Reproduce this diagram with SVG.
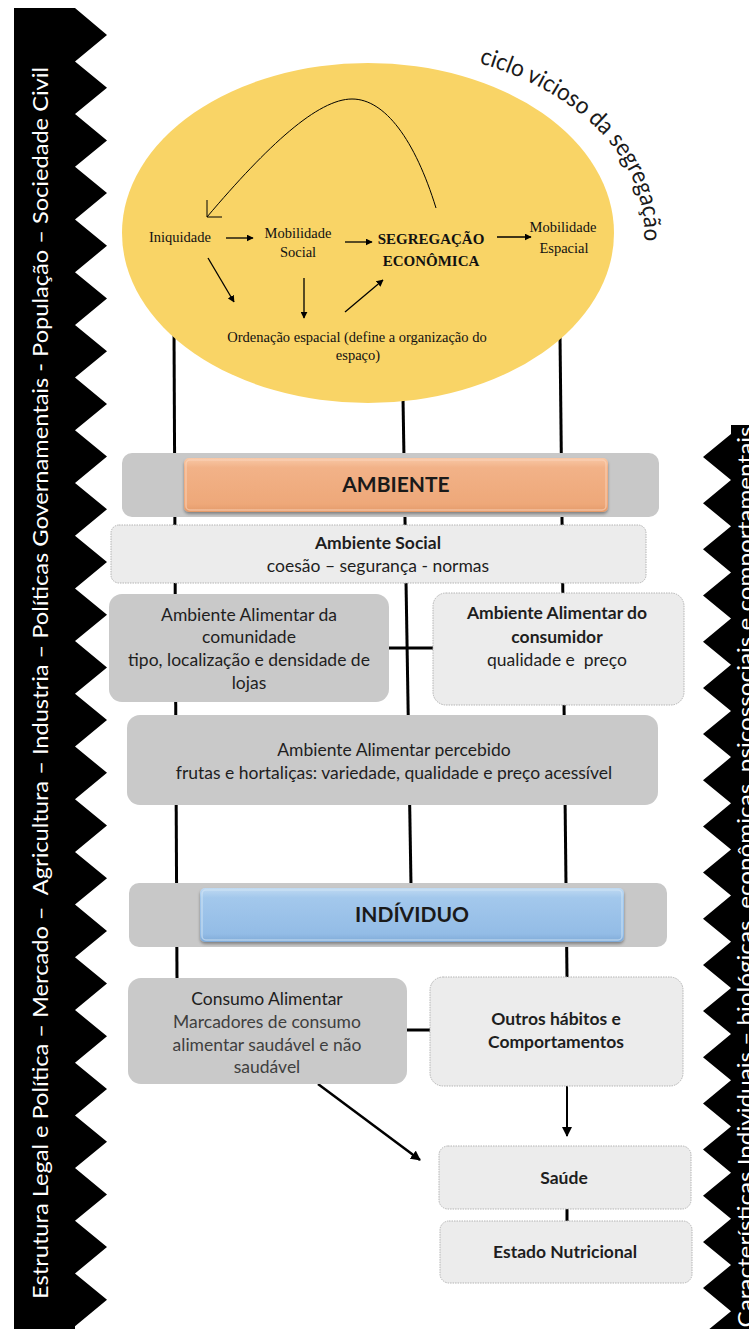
<svg xmlns="http://www.w3.org/2000/svg" width="749" height="1329" viewBox="0 0 749 1329">
  <style>
    .band-text { font-family: "Lato", "Open Sans", sans-serif; font-size: 21.5px; fill: #ffffff; }
    .serif { font-family: "Liberation Serif", "Times New Roman", serif; font-size: 14.5px; fill: #111; text-anchor: middle; }
    .serif-b { font-family: "Liberation Serif", "Times New Roman", serif; font-size: 15px; font-weight: bold; fill: #111; text-anchor: middle; }
    .lbl { font-family: "Lato", "Open Sans", sans-serif; font-size: 17.5px; fill: #1e1e1e; text-anchor: middle; }
    .lbl-b { font-family: "Lato", "Open Sans", sans-serif; font-size: 17.5px; font-weight: bold; fill: #1e1e1e; text-anchor: middle; }
    .sub { fill: #3f3f3f; }
    .head { font-family: "Lato", "Open Sans", sans-serif; font-size: 21px; font-weight: bold; fill: #1a1a1a; text-anchor: middle; }
    .band-bg { fill: #c8c8c8; }
    .dark-box { fill: #c9c9c9; }
    .light-box { fill: #ececec; stroke: #b4b4b4; stroke-width: 1; stroke-dasharray: 1.5 1; }
    .wire { stroke: #000; stroke-width: 3; fill: none; stroke-linecap: butt; }
    .thin { stroke: #000; stroke-width: 1.3; fill: none; }
  </style>
  <defs>
    <marker id="tri" viewBox="0 0 10 10" refX="9" refY="5" markerWidth="7" markerHeight="7" markerUnits="userSpaceOnUse" orient="auto">
      <path d="M0,0 L10,5 L0,10 Z" fill="#000"/>
    </marker>
    <marker id="tri-big" viewBox="0 0 10 10" refX="9" refY="5" markerWidth="10" markerHeight="10" markerUnits="userSpaceOnUse" orient="auto">
      <path d="M0,0 L10,5 L0,10 Z" fill="#000"/>
    </marker>
    <linearGradient id="orange" x1="0" y1="0" x2="0" y2="1">
      <stop offset="0" stop-color="#f8c8a6"/>
      <stop offset="0.18" stop-color="#f2b288"/>
      <stop offset="0.85" stop-color="#eea879"/>
      <stop offset="1" stop-color="#e39a6a"/>
    </linearGradient>
    <linearGradient id="blue" x1="0" y1="0" x2="0" y2="1">
      <stop offset="0" stop-color="#c0daf2"/>
      <stop offset="0.18" stop-color="#a3c8ec"/>
      <stop offset="0.85" stop-color="#93bce6"/>
      <stop offset="1" stop-color="#7fa9d6"/>
    </linearGradient>
    <filter id="shadow" x="-5%" y="-20%" width="110%" height="150%">
      <feDropShadow dx="0" dy="2" stdDeviation="1.6" flood-color="#000" flood-opacity="0.35"/>
    </filter>
    <path id="arc-title" d="M 479 63 A 273 184 0 0 1 640 264"/>
  </defs>

  <rect width="749" height="1329" fill="#ffffff"/>

  <!-- left chevron band -->
  <g id="band-left">
    <path fill="#000" d="M14,8 L75,8 L107,35 L75,61.4 L107,87.7 L75,114.1 L107,140.4 L75,166.8 L107,193.1 L75,219.5 L107,245.8 L75,272.2 L107,298.5 L75,324.9 L107,351.2 L75,377.6 L107,403.9 L75,430.3 L107,456.6 L75,483 L107,509.3 L75,535.7 L107,562 L75,588.4 L107,614.7 L75,641.1 L107,667.4 L75,693.8 L107,720.1 L75,746.5 L107,772.8 L75,799.2 L107,825.5 L75,851.9 L107,878.2 L75,904.6 L107,930.9 L75,957.3 L107,983.6 L75,1010 L107,1036.3 L75,1062.7 L107,1089 L75,1115.4 L107,1141.7 L75,1168.1 L107,1194.4 L75,1220.8 L107,1247.1 L75,1273.5 L107,1299.8 L75,1326.2 L75,1329 L14,1329 Z"/>
    <text class="band-text" x="48" y="683" text-anchor="middle" transform="rotate(-90 48 683)" textLength="1232" lengthAdjust="spacingAndGlyphs" xml:space="preserve">Estrutura Legal e Política – Mercado –  Agricultura – Industria – Políticas Governamentais - População – Sociedade Civil</text>
  </g>

  <!-- right chevron band -->
  <g id="band-right">
    <path fill="#000" d="M749,425 L731,425 L731,434 L703,457 L731,480.1 L703,503.2 L731,526.3 L703,549.3 L731,572.4 L703,595.5 L731,618.6 L703,641.7 L731,664.8 L703,687.9 L731,711 L703,734 L731,757.1 L703,780.2 L731,803.3 L703,826.4 L731,849.5 L703,872.5 L731,895.6 L703,918.7 L731,941.8 L703,964.9 L731,988 L703,1011 L731,1034.1 L703,1057.2 L731,1080.3 L703,1103.4 L731,1126.5 L703,1149.6 L731,1172.7 L703,1195.7 L731,1218.8 L703,1241.9 L731,1265 L703,1288.1 L731,1311.2 L703,1334.2 L749,1334.2 Z"/>
    <text class="band-text" x="753" y="877" text-anchor="middle" transform="rotate(-90 753 877)" textLength="901" lengthAdjust="spacingAndGlyphs">Características Individuais – biológicas, econômicas, psicossociais e comportamentais</text>
  </g>

  <!-- vertical links running behind the nodes -->
  <g id="connectors">
    <line class="wire" x1="174" y1="330" x2="177" y2="980"/>
    <line class="wire" x1="403" y1="398" x2="411" y2="885"/>
    <line class="wire" x1="560" y1="335" x2="567" y2="977"/>
    <line class="wire" x1="389" y1="648" x2="433" y2="648"/>
    <line class="wire" x1="407" y1="1030" x2="430" y2="1030"/>
    <line class="wire" x1="567" y1="1209" x2="567" y2="1221"/>
    <line stroke="#000" stroke-width="2" x1="567" y1="1086" x2="567" y2="1136" marker-end="url(#tri-big)"/>
    <line stroke="#000" stroke-width="2.5" x1="318" y1="1084" x2="420" y2="1160" marker-end="url(#tri-big)"/>
  </g>

  <!-- segregation cycle -->
  <g id="cycle">
    <ellipse cx="368" cy="233" rx="246" ry="170" fill="#f9d466"/>
    <text font-family="Lato, 'Open Sans', sans-serif" font-size="24" fill="#1a1a1a">
      <textPath href="#arc-title" textLength="262" lengthAdjust="spacingAndGlyphs">ciclo vicioso da segregação</textPath>
    </text>
    <text class="serif" x="180" y="242">Iniquidade</text>
    <text class="serif" x="298" y="238">Mobilidade</text>
    <text class="serif" x="298" y="257">Social</text>
    <text class="serif-b" x="431" y="244">SEGREGAÇÃO</text>
    <text class="serif-b" x="431" y="266">ECONÔMICA</text>
    <text class="serif" x="563" y="232">Mobilidade</text>
    <text class="serif" x="564" y="253">Espacial</text>
    <text class="serif" x="357" y="342">Ordenação espacial (define a organização do</text>
    <text class="serif" x="358" y="360">espaço)</text>
  </g>

  <g id="cycle-links">
    <line class="thin" x1="226" y1="238" x2="253" y2="238" marker-end="url(#tri)"/>
    <line class="thin" x1="345" y1="242" x2="372" y2="242" marker-end="url(#tri)"/>
    <line class="thin" x1="497" y1="237" x2="531" y2="237" marker-end="url(#tri)"/>
    <line class="thin" x1="208" y1="258" x2="234" y2="302" marker-end="url(#tri)"/>
    <line class="thin" x1="304" y1="278" x2="304" y2="318" marker-end="url(#tri)"/>
    <line class="thin" x1="345" y1="312" x2="383" y2="280" marker-end="url(#tri)"/>
    <path stroke="#000" stroke-width="1" fill="none" d="M436,208 C415,140 385,99 352,99 C318,99 268,145 207,217"/>
    <path stroke="#000" stroke-width="1" fill="none" d="M207,200 L207,217 L222,217"/>
  </g>

  <!-- AMBIENTE header -->
  <g id="ambiente">
    <rect class="band-bg" x="122" y="453" width="537" height="64" rx="10"/>
    <rect x="184" y="458" width="424" height="54" rx="5" fill="url(#orange)" filter="url(#shadow)"/>
    <rect x="186" y="460" width="420" height="50" rx="4" fill="none" stroke="#fbd6bd" stroke-opacity="0.6" stroke-width="1.5"/>
    <text class="head" x="396" y="492">AMBIENTE</text>
  </g>

  <g id="ambiente-social">
    <rect class="light-box" x="111" y="525" width="535" height="58" rx="8"/>
    <text class="lbl-b" x="378" y="549">Ambiente Social</text>
    <text class="lbl" x="378" y="572">coesão – segurança - normas</text>
  </g>

  <g id="alimentar-comunidade">
    <rect class="dark-box" x="109" y="594" width="280" height="108" rx="13"/>
    <text class="lbl" x="249" y="621">Ambiente Alimentar da</text>
    <text class="lbl" x="249" y="643">comunidade</text>
    <text class="lbl" x="249" y="666">tipo, localização e densidade de</text>
    <text class="lbl" x="249" y="689">lojas</text>
  </g>

  <g id="alimentar-consumidor">
    <rect class="light-box" x="433" y="593" width="251" height="112" rx="13"/>
    <text class="lbl-b" x="557" y="619">Ambiente Alimentar do</text>
    <text class="lbl-b" x="557" y="643">consumidor</text>
    <text class="lbl" x="557" y="666" xml:space="preserve">qualidade e  preço</text>
  </g>

  <g id="alimentar-percebido">
    <rect class="dark-box" x="127" y="715" width="531" height="90" rx="13"/>
    <text class="lbl" x="394" y="756">Ambiente Alimentar percebido</text>
    <text class="lbl" x="394" y="779">frutas e hortaliças: variedade, qualidade e preço acessível</text>
  </g>

  <!-- INDÍVIDUO header -->
  <g id="individuo">
    <rect class="band-bg" x="129" y="883" width="538" height="64" rx="10"/>
    <rect x="200" y="888" width="424" height="54" rx="5" fill="url(#blue)" filter="url(#shadow)"/>
    <rect x="202" y="890" width="420" height="50" rx="4" fill="none" stroke="#d4e6f7" stroke-opacity="0.6" stroke-width="1.5"/>
    <text class="head" x="412" y="922">INDÍVIDUO</text>
  </g>

  <g id="consumo-alimentar">
    <rect class="dark-box" x="128" y="978" width="279" height="106" rx="13"/>
    <text class="lbl" x="267" y="1005">Consumo Alimentar</text>
    <text class="lbl sub" x="267" y="1028">Marcadores de consumo</text>
    <text class="lbl sub" x="267" y="1051">alimentar saudável e não</text>
    <text class="lbl sub" x="267" y="1073">saudável</text>
  </g>

  <g id="outros-habitos">
    <rect class="light-box" x="430" y="977" width="253" height="109" rx="13"/>
    <text class="lbl-b" x="556" y="1025">Outros hábitos e</text>
    <text class="lbl-b" x="556" y="1048">Comportamentos</text>
  </g>

  <g id="saude">
    <rect class="light-box" x="439" y="1146" width="252" height="63" rx="9"/>
    <text class="lbl-b" x="564" y="1184">Saúde</text>
  </g>

  <g id="estado-nutricional">
    <rect class="light-box" x="440" y="1221" width="252" height="62" rx="9"/>
    <text class="lbl-b" x="565" y="1258">Estado Nutricional</text>
  </g>
</svg>
